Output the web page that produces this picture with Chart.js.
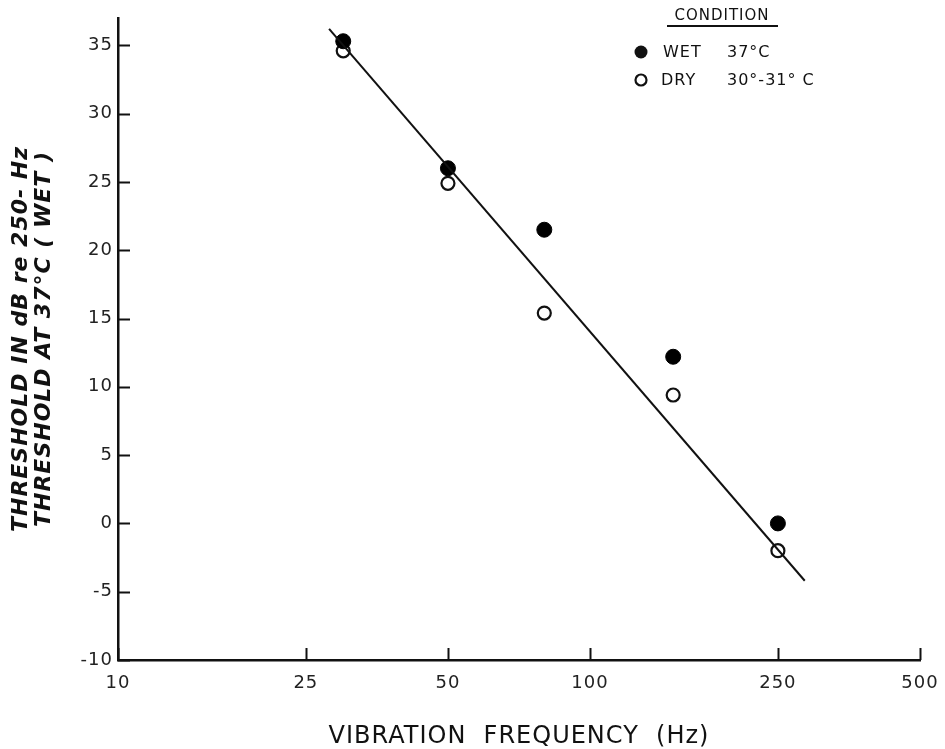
<!DOCTYPE html>
<html>
<head>
<meta charset="utf-8">
<script src="https://cdn.jsdelivr.net/npm/chart.js@4.4.1/dist/chart.umd.min.js"></script>
<style>
  html, body { margin: 0; padding: 0; background: #fff; }
  #wrap { width: 945px; height: 749px; position: relative; }
</style>
</head>
<body>
<div id="wrap"><canvas id="vib"></canvas></div>
<script>
// frequencies (Hz) and thresholds (dB re 250-Hz threshold, wet)
var freqs = [30, 50, 80, 150, 250];
var wetValues = [35.3, 26.0, 21.5, 12.2, 0.0];
var dryValues = [34.6, 24.9, 15.4, 9.4, -2.0];
// fitted line end points
var fitFreqs = [28, 285];
var fitValues = [36.2, -4.2];

var xTicks = [10, 25, 50, 100, 250, 500];
var yTicks = [-10, -5, 0, 5, 10, 15, 20, 25, 30, 35];

var fontFam = "'DejaVu Sans', 'Liberation Sans', sans-serif";

function pts(xs, ys) {
    return xs.map(function (x, i) { return { x: x, y: ys[i] }; });
}

// wider lettering like the original stencil text
var spacing = {
    id: 'spacing',
    beforeDraw: function (chart) { chart.ctx.letterSpacing = '1px'; },
    afterDraw: function (chart) { chart.ctx.letterSpacing = '0px'; }
};

// tick marks drawn inside the plot, plus the hand lettered legend
var innerTicks = {
    id: 'innerTicks',
    afterDraw: function (chart) {
        var ctx = chart.ctx;
        var xs = chart.scales.x, ys = chart.scales.y;
        var a = chart.chartArea;
        ctx.save();
        ctx.strokeStyle = '#111';
        ctx.lineWidth = 2;
        yTicks.forEach(function (v) {
            var py = Math.round(ys.getPixelForValue(v)) + 0.5;
            ctx.beginPath();
            ctx.moveTo(a.left, py);
            ctx.lineTo(a.left + 12, py);
            ctx.stroke();
        });
        xTicks.forEach(function (v) {
            var px = Math.round(xs.getPixelForValue(v)) + 0.5;
            ctx.beginPath();
            ctx.moveTo(px, a.bottom);
            ctx.lineTo(px, a.bottom - 12);
            ctx.stroke();
        });

        // legend
        ctx.fillStyle = '#111';
        ctx.letterSpacing = '1px';
        ctx.font = '15px ' + fontFam;
        ctx.textBaseline = 'middle';
        ctx.textAlign = 'center';
        ctx.fillText('CONDITION', 722, 16);
        ctx.lineWidth = 1.8;
        ctx.beginPath();
        ctx.moveTo(667, 26);
        ctx.lineTo(778, 26);
        ctx.stroke();

        ctx.font = '16px ' + fontFam;
        ctx.textAlign = 'left';
        ctx.beginPath();
        ctx.arc(641, 52, 6.5, 0, Math.PI * 2);
        ctx.fill();
        ctx.fillText('WET', 663, 53);
        ctx.fillText('37\u00b0C', 727, 53);

        ctx.lineWidth = 2.2;
        ctx.beginPath();
        ctx.arc(641, 80, 5.5, 0, Math.PI * 2);
        ctx.stroke();
        ctx.fillText('DRY', 661, 81);
        ctx.fillText('30\u00b0-31\u00b0 C', 727, 81);
        ctx.restore();
    }
};

var ctx = document.getElementById('vib');
var myChart = new Chart(ctx, {
    type: 'scatter',
    data: {
        datasets: [{
            label: 'Fit',
            data: pts(fitFreqs, fitValues),
            showLine: true,
            borderColor: '#111',
            borderWidth: 2,
            pointRadius: 0,
            fill: false
        }, {
            label: 'WET 37\u00b0C',
            data: pts(freqs, wetValues),
            pointRadius: 7.5,
            pointBackgroundColor: '#000',
            pointBorderColor: '#000',
            pointBorderWidth: 1
        }, {
            label: 'DRY 30\u00b0-31\u00b0 C',
            data: pts(freqs, dryValues),
            pointRadius: 6.5,
            pointBackgroundColor: '#fff',
            pointBorderColor: '#111',
            pointBorderWidth: 2.2
        }]
    },
    options: {
        responsive: true,
        maintainAspectRatio: false,
        animation: false,
        layout: { padding: { top: 18, right: 25, left: 6, bottom: -6 } },
        plugins: {
            legend: { display: false },
            tooltip: { enabled: false }
        },
        scales: {
            x: {
                type: 'logarithmic',
                min: 10,
                max: 500,
                afterBuildTicks: function (s) {
                    s.ticks = xTicks.map(function (v) { return { value: v }; });
                },
                afterFit: function (s) {
                    s.height = 95;
                    s.paddingRight = 0;
                },
                ticks: {
                    color: '#222',
                    font: { family: fontFam, size: 18 },
                    padding: 13,
                    maxRotation: 0,
                    autoSkip: false,
                    callback: function (v) { return String(v); }
                },
                grid: { display: false, drawTicks: false },
                border: { color: '#111', width: 2.5 },
                title: {
                    display: true,
                    text: 'VIBRATION  FREQUENCY  (Hz)',
                    color: '#111',
                    font: { family: fontFam, size: 24 },
                    padding: { top: 24 }
                }
            },
            y: {
                type: 'linear',
                min: -10,
                max: 37,
                afterBuildTicks: function (s) {
                    s.ticks = yTicks.map(function (v) { return { value: v }; });
                },
                afterFit: function (s) { s.width = 112; },
                ticks: {
                    color: '#222',
                    font: { family: fontFam, size: 18 },
                    padding: 5
                },
                grid: { display: false, drawTicks: false },
                border: { color: '#111', width: 2.5 },
                title: {
                    display: true,
                    text: ['THRESHOLD IN dB re 250- Hz', 'THRESHOLD AT 37\u00b0C ( WET )'],
                    color: '#111',
                    font: { family: fontFam, size: 22, style: 'italic', weight: 'bold', lineHeight: 1.05 },
                    padding: { bottom: 8 }
                }
            }
        }
    },
    plugins: [spacing, innerTicks]
});
</script>
</body>
</html>
